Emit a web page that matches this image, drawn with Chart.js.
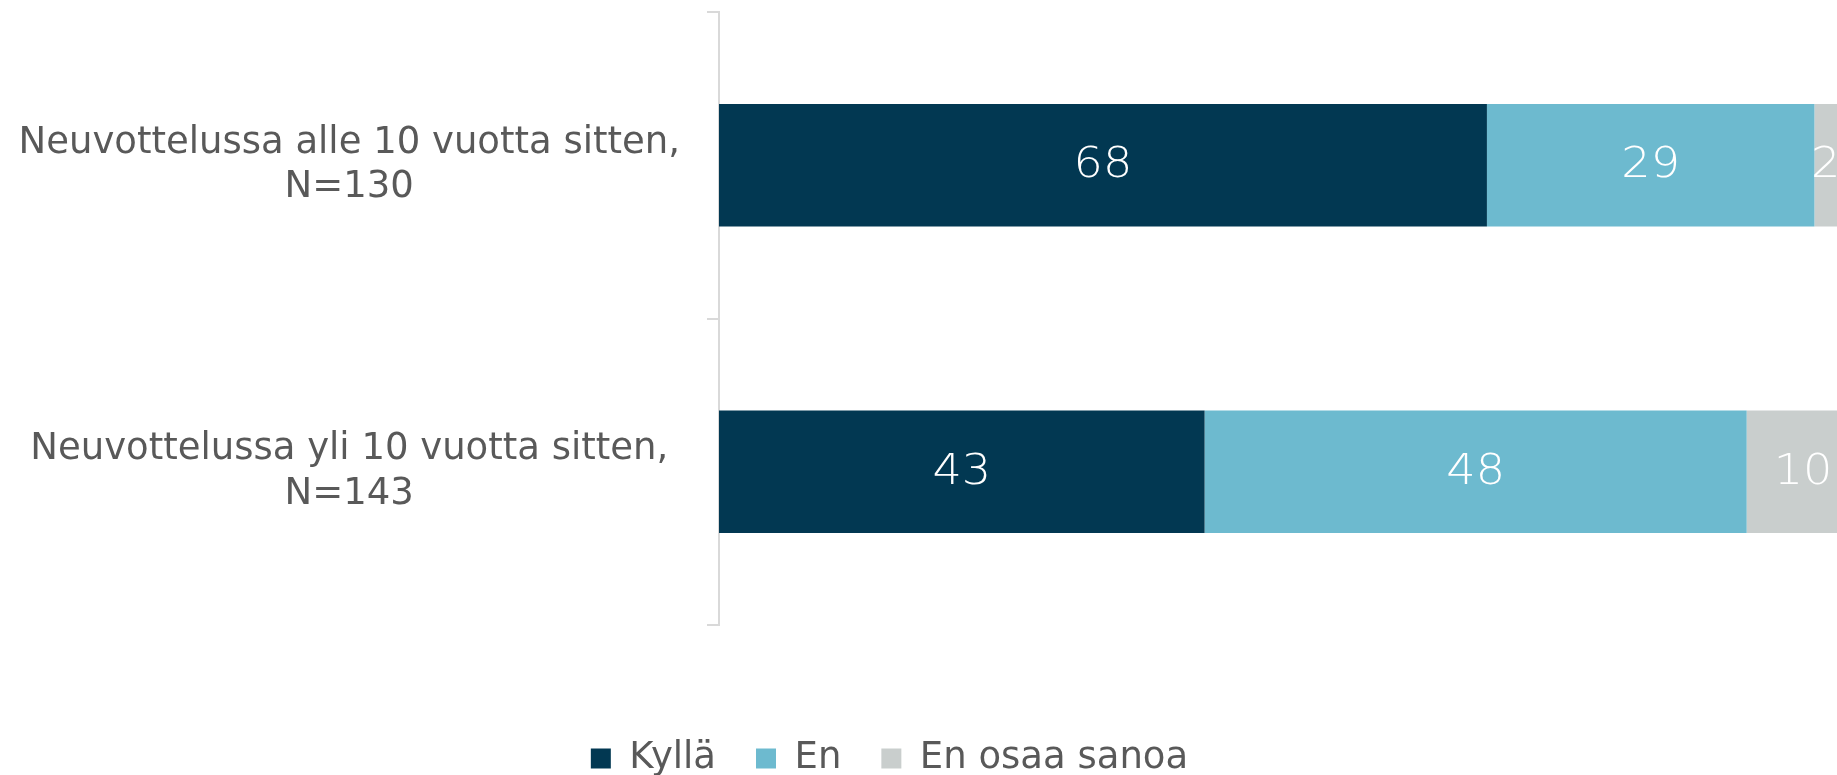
<!DOCTYPE html>
<html>
<head>
<meta charset="utf-8">
<script src="https://cdn.jsdelivr.net/npm/chart.js@4.4.0/dist/chart.umd.min.js"></script>
<style>
  html, body { margin: 0; padding: 0; background: #ffffff; }
  #wrap { width: 1837px; height: 775px; }
</style>
</head>
<body>
<div id="wrap"><canvas id="chart"></canvas></div>
<script>
// categories (two-line labels)
var groups = [
  ["Neuvottelussa alle 10 vuotta sitten,", "N=130"],
  ["Neuvottelussa yli 10 vuotta sitten,", "N=143"]
];
// series values, %
var kylla = [68, 43];
var en = [29, 48];
var enOsaa = [2, 10];

var seriesNames = ["Kyllä", "En", "En osaa sanoa"];
var seriesColors = ["#023852", "#6dbacf", "#c9cecd"];

// white value labels in the middle of each segment
var valueLabels = {
  id: 'valueLabels',
  afterDatasetsDraw: function (chart) {
    var ctx = chart.ctx;
    chart.data.datasets.forEach(function (ds, i) {
      chart.getDatasetMeta(i).data.forEach(function (bar, j) {
        var cx = (bar.x + bar.base) / 2;
        ctx.save();
        ctx.fillStyle = "#ffffff";
        ctx.font = "200 42px 'DejaVu Sans'";
        ctx.textAlign = "center";
        ctx.textBaseline = "middle";
        ctx.translate(cx, bar.y + 1);
        ctx.scale(1.1, 1);   // slightly extended digits
        ctx.fillText(String(ds.data[j]), 0, 0);
        ctx.restore();
      });
    });
  }
};

// legend sits a bit left of centre in the original
var legendShift = {
  id: 'legendShift',
  afterLayout: function (chart) {
    chart.legend.left -= 36;
    chart.legend.right -= 36;
  }
};

var ctx = document.getElementById("chart");
var chart = new Chart(ctx, {
  type: 'bar',
  data: {
    labels: groups,
    datasets: [
      { label: seriesNames[0], data: kylla, backgroundColor: seriesColors[0] },
      { label: seriesNames[1], data: en, backgroundColor: seriesColors[1] },
      { label: seriesNames[2], data: enOsaa, backgroundColor: seriesColors[2] }
    ]
  },
  options: {
    indexAxis: 'y',
    responsive: true,
    maintainAspectRatio: false,
    animation: false,
    layout: { padding: { top: 12, left: 14, right: 0, bottom: -12 } },
    datasets: {
      bar: { categoryPercentage: 1, barPercentage: 0.4, borderWidth: 0 }
    },
    scales: {
      x: {
        stacked: true,
        min: 0,
        max: 99,
        ticks: { display: false },
        grid: { display: false },
        border: { display: false },
        afterFit: function (s) { s.height = 75; }
      },
      y: {
        stacked: true,
        grid: {
          drawOnChartArea: false,
          drawTicks: true,
          tickLength: 12,
          color: "#d9d9d9",
          lineWidth: 2
        },
        border: { display: true, color: "#d9d9d9", width: 2 },
        ticks: {
          crossAlign: 'center',
          padding: 27,
          color: "#595959",
          font: { family: "DejaVu Sans", size: 37 }
        },
        afterFit: function (s) {
          s.width = 705;
          s.paddingTop = 0;
          s.paddingBottom = 0;
        }
      }
    },
    plugins: {
      legend: {
        position: 'bottom',
        labels: {
          boxWidth: 20,
          boxHeight: 20,
          padding: 40,
          color: "#595959",
          font: { family: "DejaVu Sans", size: 37 }
        }
      },
      tooltip: { enabled: false }
    }
  },
  plugins: [valueLabels, legendShift]
});
</script>
</body>
</html>
